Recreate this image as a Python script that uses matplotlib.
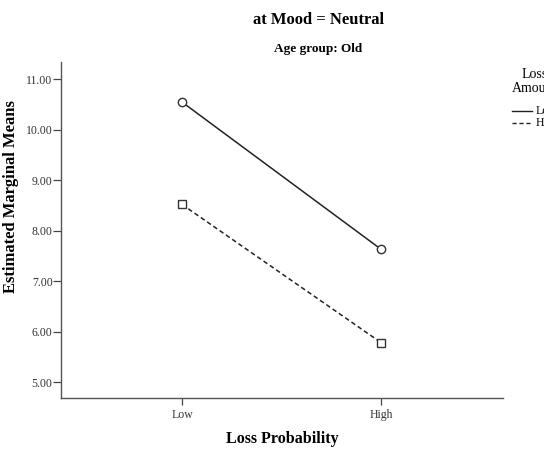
import matplotlib
matplotlib.use('Agg')
import matplotlib.pyplot as plt
from matplotlib.lines import Line2D

plt.rcParams['font.family'] = ['Liberation Serif', 'DejaVu Serif']

# data
probability = ['Low', 'High']
low_amount = [10.55, 7.63]
high_amount = [8.52, 5.78]
y_ticks = [5, 6, 7, 8, 9, 10, 11]

fig = plt.figure(figsize=(5.44, 4.54), dpi=100)
ax = fig.add_axes([0.112, 0.123, 0.813, 0.740])

x = list(range(len(probability)))
ax.plot(x, low_amount, color='#222222', linewidth=1.1, linestyle='-',
        marker='o', markersize=6, markerfacecolor='white',
        markeredgecolor='#333333', markeredgewidth=1.0)
ax.plot(x, high_amount, color='#222222', linewidth=1.1, linestyle=(0, (3, 2)),
        marker='s', markersize=6, markerfacecolor='white',
        markeredgecolor='#333333', markeredgewidth=1.0)

ax.set_xlim(-0.608, 1.613)
ax.set_ylim(4.68, 11.34)
ax.set_xticks(x)
ax.set_xticklabels(probability, fontsize=8.5, color='#333333')
ax.set_yticks(y_ticks)
ax.set_yticklabels([f'{v:.2f}' for v in y_ticks], fontsize=8.5, color='#333333')
ax.tick_params(axis='y', direction='out', length=6, width=0.9, color='#444444', pad=0)
ax.tick_params(axis='x', direction='out', length=5, width=0.9, color='#444444', pad=3)

for s in ['top', 'right']:
    ax.spines[s].set_visible(False)
for s in ['left', 'bottom']:
    ax.spines[s].set_color('#555555')
    ax.spines[s].set_linewidth(1.0)

ax.set_xlabel('Loss Probability', fontsize=11.5, fontweight='bold', labelpad=7)
ax.set_ylabel('Estimated Marginal Means', fontsize=12, fontweight='bold')
ax.yaxis.set_label_coords(-0.094, 0.6)

fig.text(0.585, 0.955, 'at Mood = Neutral', ha='center', va='center',
         fontsize=12, fontweight='bold')
fig.text(0.585, 0.893, 'Age group: Old', ha='center', va='center',
         fontsize=9.5, fontweight='bold')

# legend, clipped at the right edge like the original
fig.text(0.959, 0.835, 'Loss', ha='left', va='center', fontsize=10)
fig.text(0.941, 0.806, 'Amount', ha='left', va='center', fontsize=10)
fig.lines.append(Line2D([0.941, 0.978], [0.756, 0.756], transform=fig.transFigure,
                        color='#222222', linewidth=1.0))
fig.lines.append(Line2D([0.941, 0.978], [0.728, 0.728], transform=fig.transFigure,
                        color='#222222', linewidth=1.0, linestyle=(0, (3, 2))))
fig.text(0.985, 0.756, 'Low', ha='left', va='center', fontsize=8.5)
fig.text(0.985, 0.728, 'High', ha='left', va='center', fontsize=8.5)

fig.savefig('out.png', dpi=100)
